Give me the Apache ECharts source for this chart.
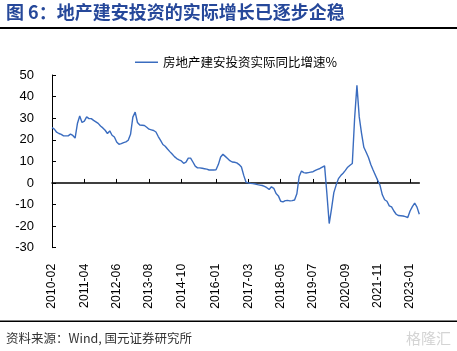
<!DOCTYPE html>
<html>
<head>
<meta charset="utf-8">
<script src="https://cdn.jsdelivr.net/npm/echarts@6/dist/echarts.min.js"></script>
<style>
html,body{margin:0;padding:0;background:#fff;}
#c{width:457px;height:351px;}
</style>
</head>
<body>
<div id="c"></div>
<script>
// Monthly categories 2010-02 .. 2023-05
const startYear = 2010, startMonth = 2, monthCount = 160;
const categories = [];
for (let k = 0; k < monthCount; k++) {
  const m0 = startMonth - 1 + k;
  const y = startYear + Math.floor(m0 / 12);
  const m = (m0 % 12) + 1;
  categories.push(y + '-' + (m < 10 ? '0' + m : '' + m));
}

const tickLabels = ['2010-02','2011-04','2012-06','2013-08','2014-10','2016-01',
  '2017-03','2018-05','2019-07','2020-09','2021-11','2023-01'];

const yTicks = [-30, -20, -10, 0, 10, 20, 30, 40, 50];

const seriesName = '房地产建安投资实际同比增速%';
const realGrowth = [
  25.6, 24.9, 23.5, 22.9, 22.5, 21.8, 21.8, 21.8, 22.6, 22.0,
  20.8, 27.5, 31.0, 28.0, 28.6, 30.6, 29.8, 29.8, 29.0, 28.3,
  27.6, 26.4, 25.5, 24.4, 22.9, 24.1, 22.1, 21.3, 19.0, 17.9,
  18.2, 18.7, 19.0, 19.8, 22.5, 30.5, 32.8, 28.0, 26.8, 26.7,
  26.6, 25.8, 24.9, 24.6, 24.3, 23.6, 21.5, 19.7, 17.8, 17.0,
  15.7, 14.5, 13.4, 12.2, 11.3, 10.7, 10.2, 9.1, 9.6, 11.5,
  11.5, 9.7, 7.8, 7.0, 7.0, 6.8, 6.6, 6.4, 6.0, 6.0,
  6.0, 6.1, 8.5, 12.0, 13.3, 12.3, 11.3, 10.3, 9.7, 9.6,
  9.3, 8.5, 7.4, 3.5, 0.3, 0.0, -0.2, -0.3, -0.5, -0.8,
  -1.0, -1.2, -1.6, -2.2, -3.0, -1.8, -2.5, -4.9, -6.0, -8.5,
  -8.8, -8.2, -8.1, -8.3, -8.2, -7.9, -5.0, 3.0, 5.5, 4.8,
  4.6, 4.8, 5.0, 5.2, 5.8, 6.3, 6.7, 7.3, 7.9, -5.0,
  -18.8, -12.0, -4.5, -1.0, 2.0, 3.4, 4.5, 5.8, 7.3, 8.2,
  9.0, 30.0, 45.2, 30.6, 23.0, 16.5, 14.2, 11.8, 8.5, 6.0,
  3.6, 1.2, -1.1, -5.5, -7.8, -8.5, -10.6, -11.1, -13.0, -14.5,
  -15.1, -15.2, -15.3, -15.6, -16.0, -13.0, -11.0, -9.3, -11.2, -14.5
];

const lineColor = '#3a6cbf';
const showTick = function (idx, val) { return tickLabels.indexOf(val) >= 0; };

const chart = echarts.init(document.getElementById('c'), null, {renderer: 'canvas'});
chart.setOption({
  animation: false,
  backgroundColor: '#ffffff',
  grid: {left: 52, right: 37.7, top: 75, bottom: 103.3, containLabel: false},
  legend: {
    left: 130, top: 51,
    icon: 'rect',
    itemWidth: 23, itemHeight: 1.5, itemGap: 10,
    data: [seriesName],
    textStyle: {fontFamily: '"Noto Sans CJK SC", sans-serif', fontSize: 12.5, color: '#000'}
  },
  xAxis: [
    {
      type: 'category', data: categories, boundaryGap: false, position: 'bottom',
      axisLine: {show: true, onZero: true, lineStyle: {color: '#000', width: 1.5}},
      axisTick: {show: true, inside: true, length: 4, interval: showTick, lineStyle: {color: '#000', width: 1}},
      axisLabel: {show: false},
      splitLine: {show: false}
    },
    {
      type: 'category', data: categories, boundaryGap: false, position: 'bottom',
      axisLine: {show: false, onZero: false},
      axisTick: {show: false},
      axisLabel: {
        show: true, interval: showTick, rotate: 90, margin: 16,
        fontFamily: '"Liberation Sans", Arial, sans-serif', fontSize: 12.3, color: '#000'
      },
      splitLine: {show: false}
    }
  ],
  yAxis: {
    type: 'value', min: yTicks[0], max: yTicks[yTicks.length - 1], interval: 10,
    axisLine: {show: true, lineStyle: {color: '#000', width: 1}},
    axisTick: {show: true, inside: true, length: 4, lineStyle: {color: '#000'}},
    axisLabel: {margin: 18, fontFamily: '"Liberation Sans", Arial, sans-serif', fontSize: 13, color: '#000'},
    splitLine: {show: false}
  },
  series: [{
    name: seriesName, type: 'line', xAxisIndex: 0, data: realGrowth,
    symbol: 'none', smooth: false,
    lineStyle: {color: lineColor, width: 1.4},
    itemStyle: {color: lineColor}
  }],
  graphic: [
    {type: 'text', left: 6, top: 3, style: {
      text: '图 6：地产建安投资的实际增长已逐步企稳',
      fontFamily: '"Noto Sans CJK SC", sans-serif', fontSize: 18, fontWeight: 'bold', fill: '#26489a'}},
    {type: 'rect', shape: {x: 0, y: 27, width: 457, height: 2}, style: {fill: '#000'}},
    {type: 'rect', shape: {x: 0, y: 320.5, width: 457, height: 1.5}, style: {fill: '#000'}},
    {type: 'text', left: 6, top: 332, style: {
      text: '资料来源：Wind, 国元证券研究所',
      fontFamily: '"Noto Sans CJK SC", sans-serif', fontSize: 12.5, fill: '#333'}},
    {type: 'text', right: 6, top: 331, style: {
      text: '格隆汇',
      fontFamily: '"Noto Sans CJK SC", sans-serif', fontSize: 15, fill: '#d4d4d4'}}
  ]
});
</script>
</body>
</html>
